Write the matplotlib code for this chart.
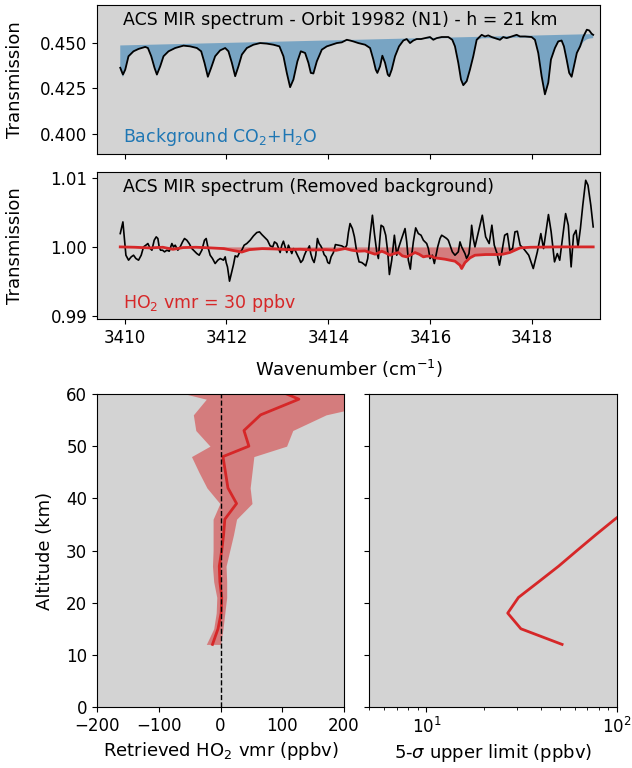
import numpy as np
import matplotlib
matplotlib.use('Agg')
import matplotlib.pyplot as plt

plt.rcParams['font.size'] = 12
plt.rcParams['axes.labelsize'] = 13

# ---------------- Panel 1: ACS MIR spectrum and background model ----------------
wn1 = [3409.916, 3409.969, 3410.014, 3410.078, 3410.176, 3410.275, 3410.406, 3410.459, 3410.524, 3410.588,
       3410.635, 3410.700, 3410.765, 3410.863, 3410.994, 3411.157, 3411.288, 3411.420, 3411.504, 3411.569,
       3411.635, 3411.700, 3411.778, 3411.876, 3411.975,
       3412.039, 3412.106, 3412.171, 3412.235, 3412.302, 3412.400, 3412.529, 3412.661, 3412.792, 3412.922,
       3413.039, 3413.118, 3413.184, 3413.249, 3413.314, 3413.392, 3413.459, 3413.543, 3413.608, 3413.655,
       3413.706, 3413.773, 3413.871, 3413.969, 3414.067, 3414.165, 3414.263, 3414.361,
       3414.425, 3414.490, 3414.588, 3414.720, 3414.818, 3414.882, 3414.929, 3414.961, 3415.014, 3415.059,
       3415.112, 3415.165, 3415.196, 3415.243, 3415.308, 3415.386, 3415.471, 3415.537, 3415.602, 3415.667,
       3415.733, 3415.818, 3415.896, 3415.994, 3416.059, 3416.125, 3416.224, 3416.353, 3416.431, 3416.484,
       3416.549, 3416.602, 3416.647, 3416.714, 3416.778, 3416.843,
       3416.910, 3417.008, 3417.073, 3417.137, 3417.204, 3417.269, 3417.367, 3417.431, 3417.498, 3417.596,
       3417.694, 3417.759, 3417.857, 3417.988, 3418.053, 3418.118, 3418.184, 3418.249, 3418.314, 3418.367,
       3418.445, 3418.510, 3418.576, 3418.622, 3418.675, 3418.725, 3418.773, 3418.818, 3418.875, 3418.939,
       3419.004, 3419.071, 3419.118, 3419.165, 3419.196]

obs1 = [0.4363, 0.4326, 0.4353, 0.4426, 0.4453, 0.4466, 0.4477, 0.4471, 0.4426, 0.4363,
        0.4326, 0.4371, 0.4426, 0.4453, 0.4471, 0.4484, 0.4480, 0.4471, 0.4453, 0.4390,
        0.4314, 0.4363, 0.4426, 0.4458, 0.4471,
        0.4453, 0.4390, 0.4317, 0.4371, 0.4435, 0.4471, 0.4489, 0.4498, 0.4495, 0.4489,
        0.4480, 0.4426, 0.4335, 0.4257, 0.4299, 0.4398, 0.4453, 0.4444, 0.4390, 0.4335,
        0.4332, 0.4398, 0.4462, 0.4480, 0.4489, 0.4498, 0.4502, 0.4516,
        0.4512, 0.4507, 0.4498, 0.4489, 0.4471, 0.4408, 0.4353, 0.4335, 0.4371, 0.4429,
        0.4390, 0.4326, 0.4317, 0.4353, 0.4426, 0.4480, 0.4512, 0.4520, 0.4498, 0.4512,
        0.4520, 0.4520, 0.4525, 0.4531, 0.4516, 0.4525, 0.4531, 0.4531, 0.4516, 0.4480,
        0.4390, 0.4299, 0.4268, 0.4290, 0.4353, 0.4426,
        0.4516, 0.4543, 0.4534, 0.4540, 0.4531, 0.4525, 0.4516, 0.4531, 0.4525, 0.4534,
        0.4543, 0.4534, 0.4534, 0.4531, 0.4516, 0.4444, 0.4317, 0.4218, 0.4281, 0.4408,
        0.4471, 0.4507, 0.4512, 0.4480, 0.4408, 0.4335, 0.4314, 0.4371, 0.4444, 0.4480,
        0.4534, 0.4571, 0.4567, 0.4549, 0.4543]

bg1 = [0.4350, 0.4312, 0.4345, 0.4420, 0.4450, 0.4464, 0.4475, 0.4469, 0.4422, 0.4358,
       0.4320, 0.4366, 0.4423, 0.4451, 0.4469, 0.4482, 0.4478, 0.4469, 0.4450, 0.4385,
       0.4308, 0.4358, 0.4422, 0.4455, 0.4469,
       0.4450, 0.4386, 0.4312, 0.4366, 0.4432, 0.4469, 0.4487, 0.4496, 0.4493, 0.4487,
       0.4478, 0.4421, 0.4330, 0.4252, 0.4294, 0.4393, 0.4450, 0.4441, 0.4386, 0.4330,
       0.4327, 0.4393, 0.4459, 0.4478, 0.4487, 0.4496, 0.4500, 0.4511,
       0.4510, 0.4506, 0.4496, 0.4487, 0.4468, 0.4404, 0.4348, 0.4328, 0.4366, 0.4425,
       0.4385, 0.4320, 0.4310, 0.4348, 0.4422, 0.4478, 0.4510, 0.4518, 0.4497, 0.4510,
       0.4518, 0.4518, 0.4521, 0.4522, 0.4515, 0.4523, 0.4524, 0.4525, 0.4514, 0.4477,
       0.4385, 0.4293, 0.4262, 0.4284, 0.4348, 0.4422,
       0.4512, 0.4524, 0.4524, 0.4525, 0.4524, 0.4520, 0.4513, 0.4525, 0.4522, 0.4527,
       0.4528, 0.4528, 0.4528, 0.4527, 0.4512, 0.4438, 0.4310, 0.4212, 0.4275, 0.4402,
       0.4466, 0.4502, 0.4506, 0.4475, 0.4402, 0.4328, 0.4308, 0.4365, 0.4438, 0.4472,
       0.4505, 0.4518, 0.4522, 0.4524, 0.4525]

# continuum (top of the blue background area), end points
cont_wn = [3409.916, 3419.196]
cont_T = [0.4485, 0.4547]

# ---------------- Panel 2: spectrum with background removed ----------------
wn2 = [3409.916, 3409.968, 3410.027, 3410.079, 3410.131, 3410.177, 3410.223, 3410.275, 3410.327, 3410.373,
       3410.419, 3410.458, 3410.504, 3410.537, 3410.582, 3410.622, 3410.654, 3410.680, 3410.707, 3410.746,
       3410.785, 3410.831, 3410.877, 3410.929, 3410.961, 3410.994, 3411.046, 3411.092, 3411.138, 3411.177,
       3411.223, 3411.269, 3411.321, 3411.373, 3411.419, 3411.465, 3411.517, 3411.569, 3411.602, 3411.635,
       3411.680, 3411.726, 3411.778, 3411.831, 3411.877, 3411.942, 3411.975,
       3411.994, 3412.020, 3412.060, 3412.105, 3412.138, 3412.171, 3412.216, 3412.256, 3412.301, 3412.347,
       3412.399, 3412.465, 3412.530, 3412.595, 3412.648, 3412.694, 3412.759, 3412.805, 3412.857, 3412.909,
       3412.942, 3412.988, 3413.020, 3413.053, 3413.086, 3413.118, 3413.151, 3413.184, 3413.216, 3413.249,
       3413.282, 3413.314, 3413.347, 3413.393, 3413.432, 3413.458, 3413.497, 3413.530, 3413.563, 3413.595,
       3413.628, 3413.654, 3413.687, 3413.720, 3413.752, 3413.785, 3413.818, 3413.850, 3413.883, 3413.916,
       3413.955, 3413.988, 3414.020, 3414.053, 3414.099, 3414.138, 3414.197, 3414.262, 3414.328, 3414.361,
       3414.393, 3414.413,
       3414.425, 3414.471, 3414.511, 3414.556, 3414.602, 3414.654, 3414.707, 3414.733, 3414.772, 3414.818,
       3414.864, 3414.903, 3414.949, 3414.981, 3415.008, 3415.034, 3415.079, 3415.125, 3415.164, 3415.197,
       3415.243, 3415.295, 3415.341, 3415.373, 3415.426, 3415.471, 3415.504, 3415.537, 3415.569, 3415.608,
       3415.635, 3415.667, 3415.713, 3415.765, 3415.818, 3415.864, 3415.896, 3415.929, 3415.962, 3415.994,
       3416.040, 3416.079, 3416.105, 3416.145, 3416.190, 3416.223, 3416.275, 3416.321, 3416.353, 3416.386,
       3416.432, 3416.484, 3416.549, 3416.582, 3416.615, 3416.647, 3416.680, 3416.713, 3416.759, 3416.798,
       3416.811, 3416.843, 3416.876,
       3417.020, 3417.086, 3417.155, 3417.208, 3417.255, 3417.310, 3417.357, 3417.404, 3417.459, 3417.512,
       3417.559, 3417.614, 3417.661, 3417.708, 3417.763, 3417.829, 3417.931, 3418.020, 3418.100, 3418.169,
       3418.222, 3418.318, 3418.371, 3418.437, 3418.492, 3418.539, 3418.655, 3418.708, 3418.763, 3418.810,
       3418.859, 3418.898, 3418.945, 3418.992, 3419.049, 3419.094, 3419.149, 3419.196]

obs2 = [1.00194, 1.00364, 0.99879, 0.99807, 0.99855, 0.99879, 0.99831, 0.99807, 0.99879, 1.00000,
        1.00025, 1.00049, 0.99976, 0.99952, 1.00097, 1.00146, 1.00122, 1.00000, 0.99952, 0.99952,
        0.99928, 0.99952, 0.99937, 1.00049, 1.00000, 1.00025, 0.99952, 1.00000, 1.00073, 1.00122,
        1.00097, 1.00049, 0.99976, 0.99937, 0.99903, 0.99879, 0.99952, 1.00097, 1.00122, 1.00000,
        0.99879, 0.99831, 0.99758, 0.99807, 0.99831, 0.99807, 0.99855,
        0.99773, 0.99709, 0.99501, 0.99637, 0.99743, 0.99870, 0.99855, 0.99918, 0.99952, 1.00025,
        1.00049, 1.00097, 1.00160, 1.00209, 1.00219, 1.00180, 1.00131, 1.00097, 1.00015, 1.00000,
        1.00073, 1.00049, 0.99986, 0.99918, 1.00025, 1.00083, 1.00000, 0.99918, 1.00025, 0.99966,
        0.99903, 0.99976, 0.99952, 0.99879, 0.99821, 0.99773, 0.99807, 0.99879, 0.99937, 0.99966,
        1.00015, 0.99903, 0.99821, 0.99773, 0.99879, 1.00122, 1.00049, 1.00015, 0.99966, 0.99888,
        0.99855, 0.99773, 0.99758, 0.99855, 0.99918, 1.00034, 1.00025, 1.00015, 0.99986, 1.00025,
        1.00209, 1.00291,
        1.00340, 1.00267, 1.00146, 0.99928, 0.99782, 0.99773, 0.99743, 0.99724, 0.99831, 1.00170,
        1.00461, 1.00194, 0.99928, 0.99831, 1.00097, 1.00315, 1.00291, 1.00170, 0.99928, 0.99598,
        0.99806, 1.00170, 0.99879, 0.99976, 1.00097, 1.00194, 1.00267, 1.00073, 0.99806, 0.99676,
        0.99879, 1.00073, 1.00277, 1.00194, 1.00170, 1.00097, 1.00073, 1.00049, 0.99976, 0.99830,
        0.99879, 0.99758, 0.99855, 1.00000, 1.00122, 1.00170, 1.00146, 1.00122, 1.00097, 1.00025,
        0.99928, 0.99879, 0.99928, 1.00073, 1.00000, 0.99952, 0.99903, 0.99830, 0.99903, 1.00170,
        1.00315, 1.00122, 1.00000,
        1.00461, 1.00146, 1.00049, 1.00316, 1.00025, 0.99903, 0.99734, 0.99928, 1.00170, 1.00194,
        0.99952, 0.99976, 1.00219, 1.00228, 1.00025, 0.99976, 0.99879, 0.99685, 0.99928, 1.00194,
        0.99976, 1.00471, 1.00219, 0.99782, 0.99903, 0.99806, 1.00485, 1.00315, 0.99709, 1.00170,
        1.00242, 1.00000, 1.00267, 1.00607, 1.00970, 1.00897, 1.00607, 1.00291]

# HO2 synthetic transmission (30 ppbv)
ho2_wn = [3409.916, 3410.200, 3410.500, 3410.750, 3410.950, 3411.150, 3411.400, 3411.700, 3411.950, 3412.150,
          3412.300, 3412.450, 3412.700, 3412.950, 3413.200, 3413.450, 3413.700, 3413.950, 3414.150,
          3414.327, 3414.458, 3414.589, 3414.719, 3414.817, 3414.915, 3414.981, 3415.046, 3415.112, 3415.210,
          3415.275, 3415.373, 3415.452, 3415.537, 3415.603, 3415.700, 3415.779, 3415.864, 3415.929, 3416.014,
          3416.093, 3416.190, 3416.288, 3416.386, 3416.484, 3416.582, 3416.615, 3416.680, 3416.778, 3416.876,
          3417.086, 3417.286, 3417.424, 3417.559, 3417.661, 3417.763, 3417.966, 3418.500, 3419.196]
ho2_T = [1.00000, 0.99995, 0.99985, 0.99995, 0.99965, 0.99990, 0.99995, 0.99985, 0.99975, 0.99945,
         0.99925, 0.99960, 0.99975, 0.99970, 0.99960, 0.99965, 0.99955, 0.99960, 0.99950,
         0.99976, 0.99952, 0.99937, 0.99942, 0.99918, 0.99894, 0.99913, 0.99937, 0.99918, 0.99879,
         0.99899, 0.99918, 0.99869, 0.99855, 0.99879, 0.99918, 0.99894, 0.99855, 0.99865, 0.99865,
         0.99840, 0.99831, 0.99821, 0.99806, 0.99792, 0.99734, 0.99685, 0.99772, 0.99840, 0.99879,
         0.99889, 0.99889, 0.99894, 0.99918, 0.99952, 0.99986, 0.99995, 1.00000, 1.00000]

# ---------------- Panel 3: retrieved HO2 profile ----------------
alt = [12, 15, 18, 21, 24, 27, 30, 33, 36, 39, 42, 45, 48, 50, 53, 56, 59, 60]
vmr = [-13, -4, 1, 2, -1, -2, 2, 5, 7, 26, 12, 8, 4, 46, 38, 65, 127, 107]
vmr_lo = [-23, -11, -7, -6, -11, -13, -12, -12, -12, -1, -22, -35, -47, -17, -40, -44, -23, -57]
vmr_hi = [0, 4, 7, 10, 10, 9, 15, 21, 26, 51, 48, 51, 54, 107, 117, 171, 283, 300]

# ---------------- Panel 4: 5-sigma upper limit ----------------
ul_alt = [12, 15, 18, 21, 24, 27, 30, 33, 36, 39]
ul_val = [51.5, 31.3, 26.7, 30.4, 38.8, 49.4, 61.7, 77.3, 97.5, 125]

# ---------------- Figure ----------------
fig = plt.figure(figsize=(6.32, 7.68), dpi=100)
ax1 = fig.add_axes([0.1535, 0.7995, 0.7959, 0.1940])
ax2 = fig.add_axes([0.1535, 0.5846, 0.7959, 0.1914], sharex=ax1)
ax3 = fig.add_axes([0.1535, 0.0794, 0.3908, 0.4076])
ax4 = fig.add_axes([0.5839, 0.0794, 0.3924, 0.4076], sharey=ax3)
for ax in (ax1, ax2, ax3, ax4):
    ax.set_facecolor('lightgray')

# panel 1
poly_x = np.concatenate([wn1, cont_wn[::-1]])
poly_y = np.concatenate([bg1, cont_T[::-1]])
ax1.fill(poly_x, poly_y, color='tab:blue', alpha=0.5, lw=0)
ax1.plot(wn1, obs1, color='black', lw=1.3)
ax1.set_xlim(3409.46, 3419.33)
ax1.set_ylim(0.3892, 0.4706)
ax1.set_yticks([0.400, 0.425, 0.450])
ax1.set_xticks([3410, 3412, 3414, 3416, 3418])
ax1.tick_params(labelbottom=False)
ax1.set_ylabel('Transmission')
ax1.yaxis.set_label_coords(-0.145, 0.5)
ax1.text(0.052, 0.90, 'ACS MIR spectrum - Orbit 19982 (N1) - h = 21 km',
         transform=ax1.transAxes, va='center', ha='left', fontsize=12.5)
ax1.text(0.052, 0.114, 'Background CO$_2$+H$_2$O', color='tab:blue',
         transform=ax1.transAxes, va='center', ha='left', fontsize=12.5)

# panel 2
ax2.fill_between(ho2_wn, ho2_T, 1.0, color='tab:red', alpha=0.5, lw=0)
ax2.plot(wn2, obs2, color='black', lw=1.2)
ax2.plot(ho2_wn, ho2_T, color='tab:red', lw=2)
ax2.set_ylim(0.9895, 1.0109)
ax2.set_yticks([0.99, 1.00, 1.01])
ax2.set_ylabel('Transmission')
ax2.yaxis.set_label_coords(-0.145, 0.5)
ax2.set_xlabel('Wavenumber (cm$^{-1}$)')
ax2.xaxis.set_label_coords(0.5, -0.265)
ax2.text(0.052, 0.898, 'ACS MIR spectrum (Removed background)',
         transform=ax2.transAxes, va='center', ha='left', fontsize=12.5)
ax2.text(0.052, 0.109, 'HO$_2$ vmr = 30 ppbv', color='tab:red',
         transform=ax2.transAxes, va='center', ha='left', fontsize=12.5)

# panel 3
ax3.fill_betweenx(alt, vmr_lo, vmr_hi, color='tab:red', alpha=0.5, lw=0)
ax3.plot(vmr, alt, color='tab:red', lw=2)
ax3.axvline(0, color='black', ls='--', lw=1)
ax3.set_xlim(-200, 200)
ax3.set_ylim(0, 60)
ax3.set_xticks([-200, -100, 0, 100, 200])
ax3.set_yticks([0, 10, 20, 30, 40, 50, 60])
ax3.set_xlabel('Retrieved HO$_2$ vmr (ppbv)')
ax3.set_ylabel('Altitude (km)')
ax3.yaxis.set_label_coords(-0.175, 0.5)

# panel 4
ax4.plot(ul_val, ul_alt, color='tab:red', lw=2)
ax4.set_xscale('log')
ax4.set_xlim(5, 100)
ax4.tick_params(labelleft=False)
ax4.set_xlabel('5-$\\sigma$ upper limit (ppbv)')

fig.savefig('out.png', dpi=100)
